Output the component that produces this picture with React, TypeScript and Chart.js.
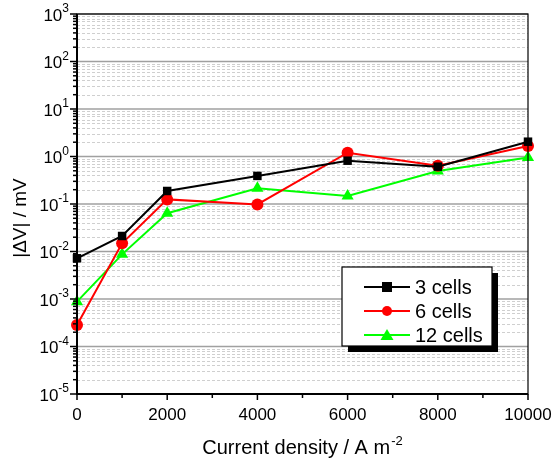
import React, { useEffect, useRef } from "react";
import { Chart, registerables } from "chart.js";

Chart.register(...registerables);

// Current density (A m^-2) and |ΔV| (mV) for each stack size
const currentDensity = [0, 1000, 2000, 4000, 6000, 8000, 10000];
const cells3 = [0.0072, 0.0212, 0.188, 0.39, 0.816, 0.61, 2.05];
const cells6 = [0.000284, 0.0149, 0.125, 0.098, 1.2, 0.64, 1.66];
const cells12 = [0.00088, 0.0087, 0.064, 0.214, 0.147, 0.495, 0.95];

const seriesNames = ["3 cells", "6 cells", "12 cells"];
const seriesColors = ["#000000", "#ff0000", "#00ff00"];
const seriesMarkers = ["rect", "circle", "triangle"] as const;

const xTickValues = [0, 1000, 2000, 3000, 4000, 5000, 6000, 7000, 8000, 9000, 10000];
const xTickLabels = ["0", "2000", "4000", "6000", "8000", "10000"];
const yExponents = [-5, -4, -3, -2, -1, 0, 1, 2, 3];

const FONT = "Liberation Sans, Arial, sans-serif";

const axisDecor = {
  id: "axisDecor",
  beforeDatasetsDraw(chart: any) {
    const { ctx, chartArea: a } = chart;
    const y = chart.scales.y;
    ctx.save();
    // minor grid lines (2..9 within each decade)
    ctx.strokeStyle = "#cfcfcf";
    ctx.lineWidth = 1;
    ctx.setLineDash([3, 2]);
    for (let e = -5; e < 3; e++) {
      for (let m = 2; m <= 9; m++) {
        const py = Math.round(y.getPixelForValue(m * Math.pow(10, e))) + 0.5;
        ctx.beginPath();
        ctx.moveTo(a.left, py);
        ctx.lineTo(a.right, py);
        ctx.stroke();
      }
    }
    // decade grid lines
    ctx.setLineDash([]);
    ctx.strokeStyle = "#a0a0a0";
    ctx.lineWidth = 1.5;
    for (const e of yExponents) {
      const py = y.getPixelForValue(Math.pow(10, e));
      ctx.beginPath();
      ctx.moveTo(a.left, py);
      ctx.lineTo(a.right, py);
      ctx.stroke();
    }
    ctx.restore();
  },
  afterDatasetsDraw(chart: any) {
    const { ctx, chartArea: a } = chart;
    const x = chart.scales.x;
    const y = chart.scales.y;
    ctx.save();
    ctx.strokeStyle = "#000";
    ctx.setLineDash([]);

    // frame
    ctx.lineWidth = 1.2;
    ctx.strokeRect(a.left, a.top, a.right - a.left, a.bottom - a.top);
    ctx.lineWidth = 2;
    ctx.beginPath();
    ctx.moveTo(a.left, a.top);
    ctx.lineTo(a.left, a.bottom);
    ctx.lineTo(a.right, a.bottom);
    ctx.stroke();

    // y ticks
    ctx.lineWidth = 1.5;
    for (let e = -5; e <= 3; e++) {
      const py = y.getPixelForValue(Math.pow(10, e));
      ctx.beginPath();
      ctx.moveTo(a.left - 7, py);
      ctx.lineTo(a.left, py);
      ctx.stroke();
      if (e < 3) {
        for (let m = 2; m <= 9; m++) {
          const pm = y.getPixelForValue(m * Math.pow(10, e));
          ctx.beginPath();
          ctx.moveTo(a.left - 4, pm);
          ctx.lineTo(a.left, pm);
          ctx.stroke();
        }
      }
    }

    // x ticks
    for (const v of xTickValues) {
      const px = x.getPixelForValue(v);
      const len = v % 2000 === 0 ? 6 : 4;
      ctx.beginPath();
      ctx.moveTo(px, a.bottom);
      ctx.lineTo(px, a.bottom + len);
      ctx.stroke();
    }

    // y tick labels: 10^n
    ctx.fillStyle = "#000";
    ctx.textBaseline = "middle";
    for (const e of yExponents) {
      const py = y.getPixelForValue(Math.pow(10, e));
      ctx.font = `17px ${FONT}`;
      const wBase = ctx.measureText("10").width;
      ctx.font = `12px ${FONT}`;
      const expStr = e < 0 ? "-" + Math.abs(e) : String(e);
      const wExp = ctx.measureText(expStr).width;
      const right = a.left - 8;
      const startX = right - wBase - wExp;
      ctx.font = `17px ${FONT}`;
      ctx.textAlign = "left";
      ctx.fillText("10", startX, py + 2);
      ctx.font = `12px ${FONT}`;
      ctx.fillText(expStr, startX + wBase, py - 5);
    }

    // x tick labels
    ctx.font = `17px ${FONT}`;
    ctx.textAlign = "center";
    ctx.textBaseline = "middle";
    xTickLabels.forEach((t) => {
      ctx.fillText(t, x.getPixelForValue(Number(t)), a.bottom + 21);
    });

    // x axis title with superscript
    const main = "Current density / A m";
    ctx.font = `20px ${FONT}`;
    const wMain = ctx.measureText(main).width;
    ctx.font = `13px ${FONT}`;
    const wSup = ctx.measureText("-2").width;
    const cx = 302;
    const sx = cx - (wMain + wSup) / 2;
    ctx.textAlign = "left";
    ctx.textBaseline = "alphabetic";
    ctx.font = `20px ${FONT}`;
    ctx.fillText(main, sx, 454);
    ctx.font = `13px ${FONT}`;
    ctx.fillText("-2", sx + wMain + 1, 445);

    // y axis title
    ctx.save();
    ctx.translate(21, 218);
    ctx.rotate(-Math.PI / 2);
    ctx.font = `19px ${FONT}`;
    ctx.textAlign = "center";
    ctx.textBaseline = "middle";
    ctx.fillText("|\u0394V| / mV", 0, 0);
    ctx.restore();

    // legend box with drop shadow
    const lx = 342, ly = 267, lw = 150, lh = 79;
    ctx.fillStyle = "#000";
    ctx.fillRect(lx + 6, ly + 6, lw, lh);
    ctx.fillStyle = "#fff";
    ctx.fillRect(lx, ly, lw, lh);
    ctx.lineWidth = 1.2;
    ctx.strokeRect(lx, ly, lw, lh);
    const rowY = [287, 311, 335];
    seriesNames.forEach((name, i) => {
      const ry = rowY[i];
      ctx.strokeStyle = seriesColors[i];
      ctx.fillStyle = seriesColors[i];
      ctx.lineWidth = 2;
      ctx.beginPath();
      ctx.moveTo(364, ry);
      ctx.lineTo(410, ry);
      ctx.stroke();
      const mx = 387;
      ctx.beginPath();
      if (seriesMarkers[i] === "rect") {
        ctx.fillRect(mx - 5, ry - 5, 10, 10);
      } else if (seriesMarkers[i] === "circle") {
        ctx.arc(mx, ry, 5, 0, Math.PI * 2);
        ctx.fill();
      } else {
        ctx.moveTo(mx, ry - 6);
        ctx.lineTo(mx + 6.5, ry + 5);
        ctx.lineTo(mx - 6.5, ry + 5);
        ctx.closePath();
        ctx.fill();
      }
      ctx.fillStyle = "#000";
      ctx.font = `20px ${FONT}`;
      ctx.textAlign = "left";
      ctx.textBaseline = "middle";
      ctx.fillText(name, 415, ry + 1);
    });
    ctx.restore();
  },
};

export default function App() {
  const canvasRef = useRef<HTMLCanvasElement | null>(null);

  useEffect(() => {
    if (!canvasRef.current) return;
    const seriesValues = [cells3, cells6, cells12];
    const chart = new Chart(canvasRef.current, {
      type: "line",
      data: {
        datasets: seriesValues.map((vals, i) => ({
          label: seriesNames[i],
          data: currentDensity.map((xv, j) => ({ x: xv, y: vals[j] })),
          borderColor: seriesColors[i],
          backgroundColor: seriesColors[i],
          borderWidth: 2,
          pointStyle: seriesMarkers[i],
          pointRadius: seriesMarkers[i] === "triangle" ? 7 : 6,
          pointBorderWidth: 0,
          tension: 0,
          clip: false as any,
        })),
      },
      options: {
        responsive: false,
        animation: false,
        layout: { padding: { left: 0, top: 14, right: 25, bottom: 0 } },
        plugins: {
          legend: { display: false },
          tooltip: { enabled: false },
        },
        scales: {
          x: {
            type: "linear",
            min: 0,
            max: 10000,
            ticks: { display: false },
            grid: { display: false },
            border: { display: false },
            afterFit: (s: any) => {
              s.height = 68;
            },
          },
          y: {
            type: "logarithmic",
            min: 1e-5,
            max: 1e3,
            ticks: { display: false },
            grid: { display: false },
            border: { display: false },
            afterFit: (s: any) => {
              s.width = 77;
            },
          },
        },
      },
      plugins: [axisDecor],
    });
    return () => chart.destroy();
  }, []);

  return (
    <div style={{ position: "absolute", left: 0, top: 0, width: 553, height: 462, background: "#fff" }}>
      <canvas ref={canvasRef} width={553} height={462} />
    </div>
  );
}
